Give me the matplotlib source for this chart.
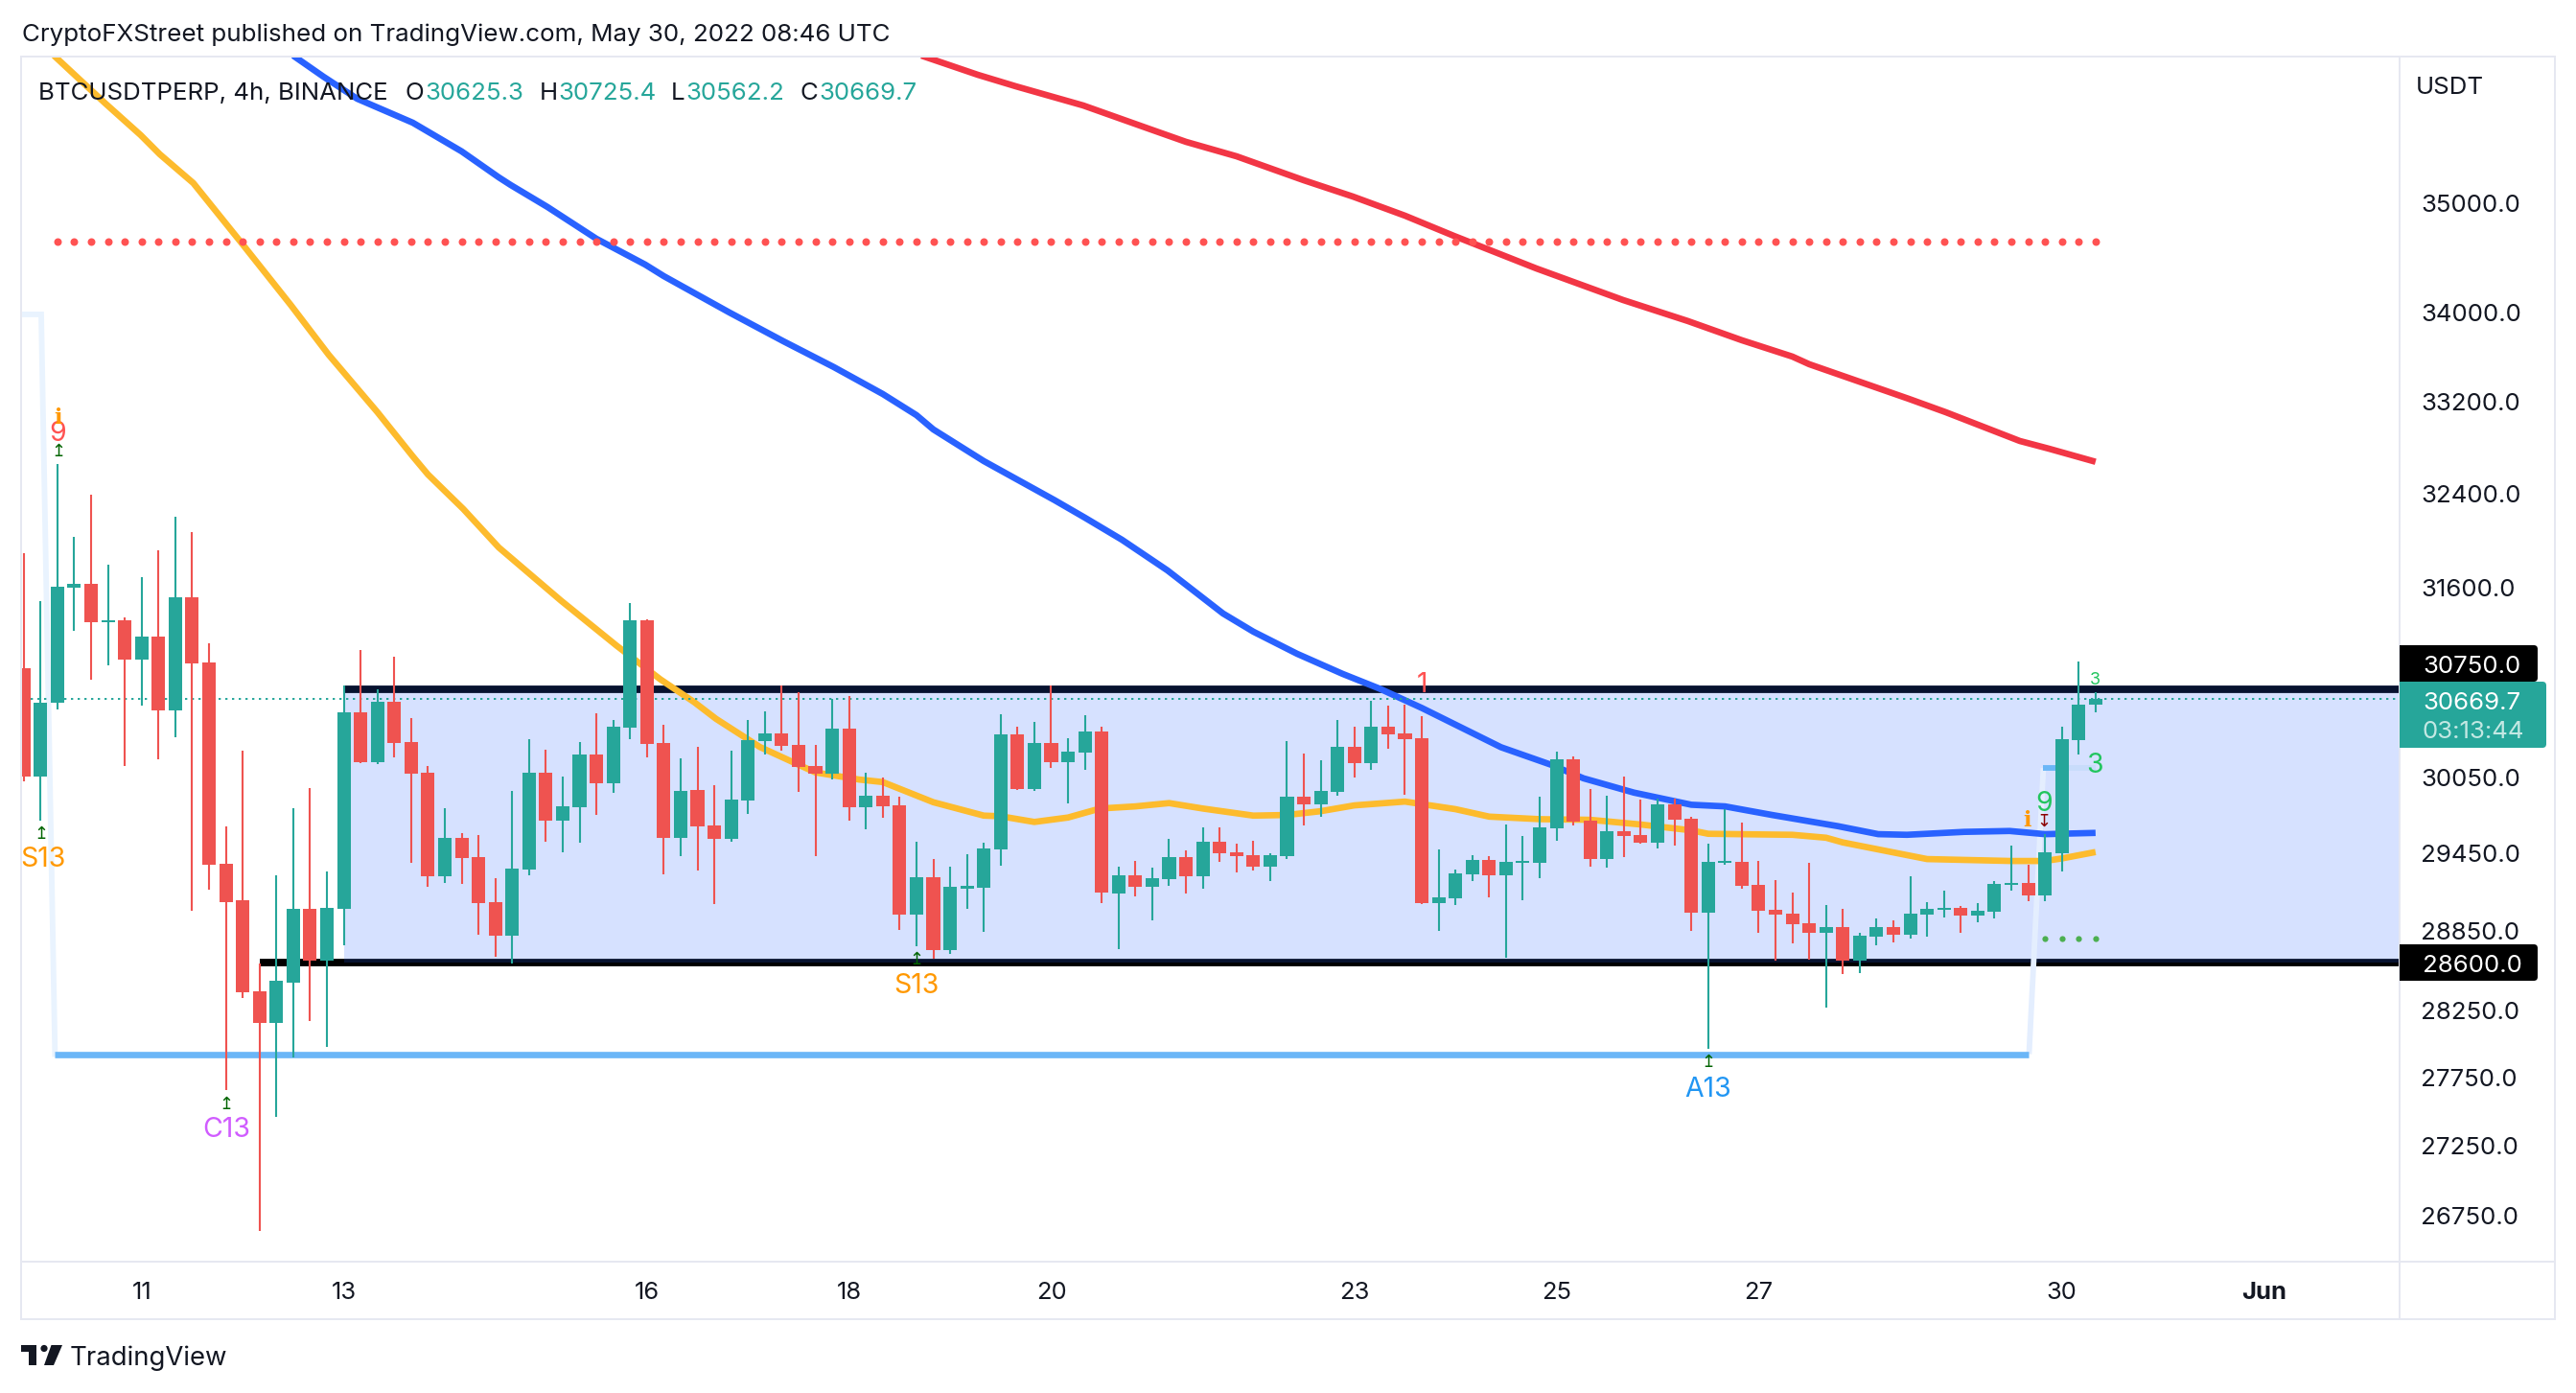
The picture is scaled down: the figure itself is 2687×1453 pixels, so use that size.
import matplotlib
matplotlib.use("Agg")
import matplotlib.pyplot as plt
from matplotlib.patches import Rectangle, FancyBboxPatch, Polygon, Circle
from matplotlib.transforms import ScaledTranslation

plt.rcParams['font.family'] = ['Inter', 'DejaVu Sans']

W, H = 2687, 1453

opens = [30924,30045,30638,31590,31623,31305,31319,30993,31184,30583,
 31511,30970,29358,29074,28379,28143,28450,29009,28613,29009,
 30561,30162,30647,30320,30077,29262,29560,29410,29061,28802,
 29314,30077,29701,29803,30220,29991,30438,31319,30316,29560,
 29938,29657,29551,29857,30329,30393,30297,30130,30068,30429,
 29805,29894,29818,28965,29254,28694,29167,29172,29471,30385,
 29947,30315,30161,30238,30408,29128,29269,29180,29239,29411,
 29261,29531,29448,29426,29336,29418,29886,29826,29924,30284,
 30153,30447,30392,30354,29053,29090,29276,29389,29269,29364,
 29366,29636,30184,29697,29396,29614,29584,29523,29826,29712,
 28980,29364,29374,29194,29002,28973,28899,28825,28870,28613,
 28796,28870,28811,28965,29002,29016,28958,28987,29194,29209,
 29112,29441,30338,30625.3]
closes = [30045,30638,31600,31623,31305,31319,30993,31184,30583,31511,
 30961,29349,29061,28375,28143,28459,29009,28613,29018,30561,
 30162,30647,30316,30068,29262,29560,29402,29053,28802,29322,
 30077,29701,29808,30220,29991,30447,31319,30307,29560,29933,
 29653,29551,29861,30338,30393,30293,30121,30068,30429,29803,
 29894,29810,28965,29254,28694,29180,29185,29478,30385,29947,
 30315,30161,30246,30408,29135,29269,29180,29247,29411,29261,
 29531,29441,29418,29336,29426,29886,29826,29932,30284,30153,
 30447,30385,30346,29053,29098,29284,29389,29269,29374,29379,
 29644,30184,29689,29396,29614,29576,29523,29826,29705,28980,
 29374,29379,29187,28994,28965,28892,28825,28870,28613,28803,
 28870,28811,28973,29009,29016,28958,28994,29202,29207,29112,
 29448,30346,30625,30669.7]
highs = [31880,31483,32642,32022,32379,31785,31342,31680,31904,32191,
 32061,31128,29653,30252,28596,29270,29794,29956,29296,30786,
 31072,30749,31017,30515,30130,29794,29600,29582,29244,29933,
 30347,30261,30045,30320,30556,30502,31464,31328,30461,30193,
 30284,29978,30252,30502,30570,30786,30730,30297,30675,30693,
 30076,30038,29886,29531,29396,29336,29433,29523,30547,30447,
 30486,30782,30354,30540,30447,29336,29381,29329,29554,29463,
 29644,29644,29516,29538,29441,30331,30230,30176,30501,30447,
 30656,30617,30625,30532,29471,29314,29426,29418,29667,29576,
 29886,30246,30207,29947,29894,30046,29863,29873,29871,29727,
 29516,29788,29682,29381,29232,29135,29366,29039,29009,28825,
 28936,28921,29261,29061,29150,29031,29053,29224,29501,29351,
 29591,30447,30979,30725.4]
lows = [30005,29701,30588,31230,30827,30947,30130,30615,30184,30361,
 28996,29157,27648,28329,26634,27454,27888,28160,27967,28729,
 30153,30150,30198,29367,29179,29209,29200,28810,28643,28596,
 29270,29529,29446,29525,29741,29915,30347,30198,29274,29419,
 29305,29044,29529,29750,30220,30252,29924,29419,30023,29696,
 29629,29720,28847,28723,28628,28665,29009,28833,29343,29940,
 29932,30115,29833,30099,29053,28701,29105,28921,29187,29128,
 29165,29374,29291,29306,29224,29396,29659,29727,29894,30038,
 30099,30269,29901,29046,28840,29039,29224,29098,28635,29075,
 29247,29538,29659,29336,29329,29411,29520,29478,29501,28840,
 27951,29351,29165,28825,28613,28745,28620,28259,28511,28519,
 28730,28752,28782,28796,28943,28825,28906,28936,29150,29068,
 29068,29299,30222,30562.2]

ma_fast_x = [1.8,4.85,6.95,8.08,10.07,13,15.85,18.1,21,23.1,24,26.1,28.2,31.9,35.2,37.8,39.8,41.1,43.7,47,49.6,
 51,54,57,58,60,62,63.9,66,68,70,73,75,77,79,82,85,87,90,93,96,99,100,103,105,107,108,113,118,120,121,123]
ma_fast_y = [36383,35924,35623,35443,35173,34605,34054,33607,33098,32712,32555,32258,31931,31483,31109,30832,30647,30511,30284,30080,30023,
 30003,29843,29737,29732,29687,29722,29793,29810,29836,29793,29737,29742,29772,29818,29848,29788,29729,29709,29704,29667,29621,29594,29589,29586,29563,29526,29396,29381,29381,29401,29451]
ma_mid_x = [16,17.8,19.8,23.1,26,28.2,28.9,31.1,34,36.9,38,41.9,45.1,48.1,51,53,54,57,61.2,63,65.2,67.9,71.2,73,75.6,78.3,80.5,83,87.7,90.7,92.6,95.6,99,101,103.8,107.7,110.1,111.8,115.2,117.9,120,123]
ma_mid_y = [36383,36180,35969,35741,35470,35227,35156,34950,34657,34420,34315,33985,33727,33496,33258,33072,32947,32671,32334,32184,31996,31737,31376,31225,31042,30877,30756,30599,30282,30140,30033,29919,29823,29810,29742,29654,29591,29586,29609,29616,29591,29601]
ma_slow_x = [53.3,56.65,58.9,62.9,66.9,69,72,76,78.9,82,84.9,89.8,94.95,98.8,102,105,106,111.9,114.1,118.5,120.2,123]
ma_slow_y = [36383,36198,36088,35905,35678,35560,35424,35199,35048,34870,34684,34385,34098,33908,33736,33590,33522,33216,33098,32846,32780,32665]

res_dotted_price = 34632
support_price = 27913
support_start, support_end = 1.86, 119.05
connector_left_x = [-0.2, 1.04, 1.86]
connector_left_y = [33968, 33968, 27913]
connector_right_x = [119.05, 119.9]
connector_right_y = [27913, 30115]
support_pale_x = [119.9, 123]
support_pale_y = [30115, 30115]
support_new_x = [119.9, 121.0]
support_new_y = [30115, 30115]
range_high, range_low = 30750, 28600
range_fill_top = 30786
last_price = 30669.7
buy_dot_idx = [120, 121, 122, 123]
buy_dot_price = 28782

price_ticks = [35000, 34000, 33200, 32400, 31600, 30050, 29450, 28850, 28250, 27750, 27250, 26750]
date_pos = [7, 19, 37, 49, 61, 79, 91, 103, 121, 133]
date_labels = ['11', '13', '16', '18', '20', '23', '25', '27', '30', 'Jun']

GREEN, RED = '#26A69A', '#EF5350'
INK = '#131722'
BORDER = '#E6E8F1'

fig = plt.figure(figsize=(W / 100, H / 100), dpi=100, facecolor='white')
L, R, T, B = 22, 2503, 59, 1316
ax = fig.add_axes([L / W, 1 - B / H, (R - L) / W, (B - T) / H])
ax.set_yscale('log')
ax.set_xlim(-0.154, 141.05)
ax.set_ylim(26417, 36374)
for s in ax.spines.values():
    s.set_visible(False)

# range box
ax.hlines(range_high, 19, 142, color='black', lw=5.6, zorder=1)
ax.hlines(range_low, 14, 142, color='black', lw=5.6, zorder=1)
ax.fill_between([19, 142], range_low, range_fill_top, color='#2962FF', alpha=0.19, lw=0, zorder=2)

# step support line
ax.plot(connector_left_x, connector_left_y, color='#E9F3FE', lw=4.2, zorder=2.5, solid_joinstyle='miter')
ax.plot(connector_right_x, connector_right_y, color='#E4EEFE', lw=4.2, zorder=2.5, solid_capstyle='butt')
ax.plot(support_pale_x, support_pale_y, color='#C8DCFB', lw=4.2, zorder=2.5, solid_capstyle='butt')
ax.hlines(support_price, support_start, support_end, color='#6BB6F7', lw=4.8, zorder=2.6)
ax.plot(support_new_x, support_new_y, color='#6BB6F7', lw=4.2, zorder=2.6, solid_capstyle='butt')

# moving averages
ax.plot(ma_fast_x, ma_fast_y, color='#FDBB2D', lw=4.8, zorder=3, solid_capstyle='butt')
ax.plot(ma_mid_x, ma_mid_y, color='#2962FF', lw=4.8, zorder=3, solid_capstyle='butt')
ax.plot(ma_slow_x, ma_slow_y, color='#F23645', lw=4.8, zorder=3, solid_capstyle='butt')

# dotted levels
ax.scatter(range(2, 124), [res_dotted_price] * 122, s=33, color='#FF5252', lw=0, zorder=3)
ax.scatter(buy_dot_idx, [buy_dot_price] * len(buy_dot_idx), s=20, color='#4CAF50', lw=0, zorder=3)
ax.hlines(last_price, 0, 142, color=GREEN, lw=1.4, linestyles=(0, (1.2, 2.4)), zorder=3.5)

# candles
for i, (o, h, l, c) in enumerate(zip(opens, highs, lows, closes)):
    col = GREEN if c >= o else RED
    ax.vlines(i, l, h, color=col, lw=1.5, zorder=4)
    ax.bar(i, abs(c - o), bottom=min(o, c), width=0.8, color=col, lw=0, zorder=4.1)

# axes ticks
ax.minorticks_off()
ax.yaxis.tick_right()
ax.set_yticks(price_ticks)
ax.set_yticklabels([f'{p:.1f}' for p in price_ticks], fontsize=18.6, color=INK)
ax.tick_params(axis='y', which='both', length=0, pad=16)
ax.tick_params(axis='y', which='minor', labelright=False)
shift = ScaledTranslation(0, -1.5 / 100, fig.dpi_scale_trans)
for lab in ax.get_yticklabels():
    lab.set_transform(lab.get_transform() + shift)
ax.set_xticks(date_pos)
ax.set_xticklabels(date_labels, fontsize=18.4, color=INK)
ax.get_xticklabels()[-1].set_fontweight('bold')
ax.tick_params(axis='x', length=0, pad=15)

# overlay in image pixels for page furniture
ov = fig.add_axes([0, 0, 1, 1], zorder=10)
ov.set_xlim(0, W)
ov.set_ylim(H, 0)
ov.axis('off')
ov.patch.set_alpha(0)

for (x0, y0, x1, y1) in [(21, 58, 2666, 60), (21, 1375, 2666, 1377), (21, 58, 23, 1377),
                         (2664, 58, 2666, 1377), (2502, 60, 2504, 1376), (22, 1315, 2665, 1317)]:
    ov.add_patch(Rectangle((x0, y0), x1 - x0, y1 - y0, color=BORDER, lw=0))


def badge(y0, y1, x1, color):
    ov.add_patch(FancyBboxPatch((2510, y0 + 4), x1 - 2514, y1 - y0 - 8,
                                boxstyle='round,pad=4,rounding_size=4', color=color, lw=0))
    ov.add_patch(Rectangle((2503, y0), 12, y1 - y0, color=color, lw=0))


badge(673, 711, 2647, 'black')
badge(985, 1023, 2647, 'black')
badge(711, 780, 2656, GREEN)


def t(x, y, s, size, color=INK, ha='left', va='center', **kw):
    ov.text(x, y + 3, s, fontsize=size, color=color, ha=ha, va=va, **kw)


t(2527, 692, '30750.0', 18.6, 'white')
t(2527, 1004, '28600.0', 18.6, 'white')
t(2527, 730, '30669.7', 18.6, 'white')
t(2527, 761, '03:13:44', 18.6, '#C3E8E3')
t(2520, 88, 'USDT', 18.6)

t(23, 33, 'CryptoFXStreet published on TradingView.com, May 30, 2022 08:46 UTC', 18.7)
t(40.5, 94, 'BTCUSDTPERP, 4h, BINANCE', 18.6)
for x, s in [(423, 'O'), (563, 'H'), (700, 'L'), (835, 'C')]:
    t(x, 94, s, 18.6)
for x, s in [(443, '30625.3'), (582, '30725.4'), (715, '30562.2'), (854, '30669.7')]:
    t(x, 94, s, 18.6, GREEN)

# indicator labels
t(45, 894, 'S13', 20.5, '#FF9800', ha='center')
t(236, 1176, 'C13', 20.5, '#D05CFF', ha='center')
t(956, 1026, 'S13', 20.5, '#FF9800', ha='center')
t(1782, 1134, 'A13', 20.5, '#2196F3', ha='center')
t(60.5, 449, '9', 20.5, '#FF5252', ha='center')
t(1483, 711, '1', 20.5, '#FF5252', ha='center')
t(2185, 706, '3', 13, '#22C55E', ha='center')
t(2185, 795, '3', 20.5, '#22C55E', ha='center')
t(2132, 835, '9', 20.5, '#22C55E', ha='center')
t(60.5, 433, 'i', 16, '#FF9800', ha='center', family='DejaVu Serif', weight='bold')
t(2114, 853, 'i', 16, '#FF9800', ha='center', family='DejaVu Serif', weight='bold')
for x, y in [(61, 468), (43, 867), (236, 1149), (956, 998), (1782, 1105)]:
    t(x, y, '↥', 13, '#006400', ha='center', family='DejaVu Sans')
t(2132, 854, '↧', 13, '#8B0000', ha='center', family='DejaVu Sans')

# wordmark
ink = '#131722'
ov.add_patch(Rectangle((22, 1403), 16, 6.5, color=ink, lw=0))
ov.add_patch(Rectangle((30, 1403), 8, 21, color=ink, lw=0))
ov.add_patch(Circle((46, 1406.5), 3.6, color=ink, lw=0))
ov.add_patch(Polygon([(53.5, 1403), (65, 1403), (56, 1424), (46, 1424)], color=ink, lw=0))
t(73, 1414, 'TradingView', 19.8)

fig.savefig('out.png', dpi=100, facecolor='white')
